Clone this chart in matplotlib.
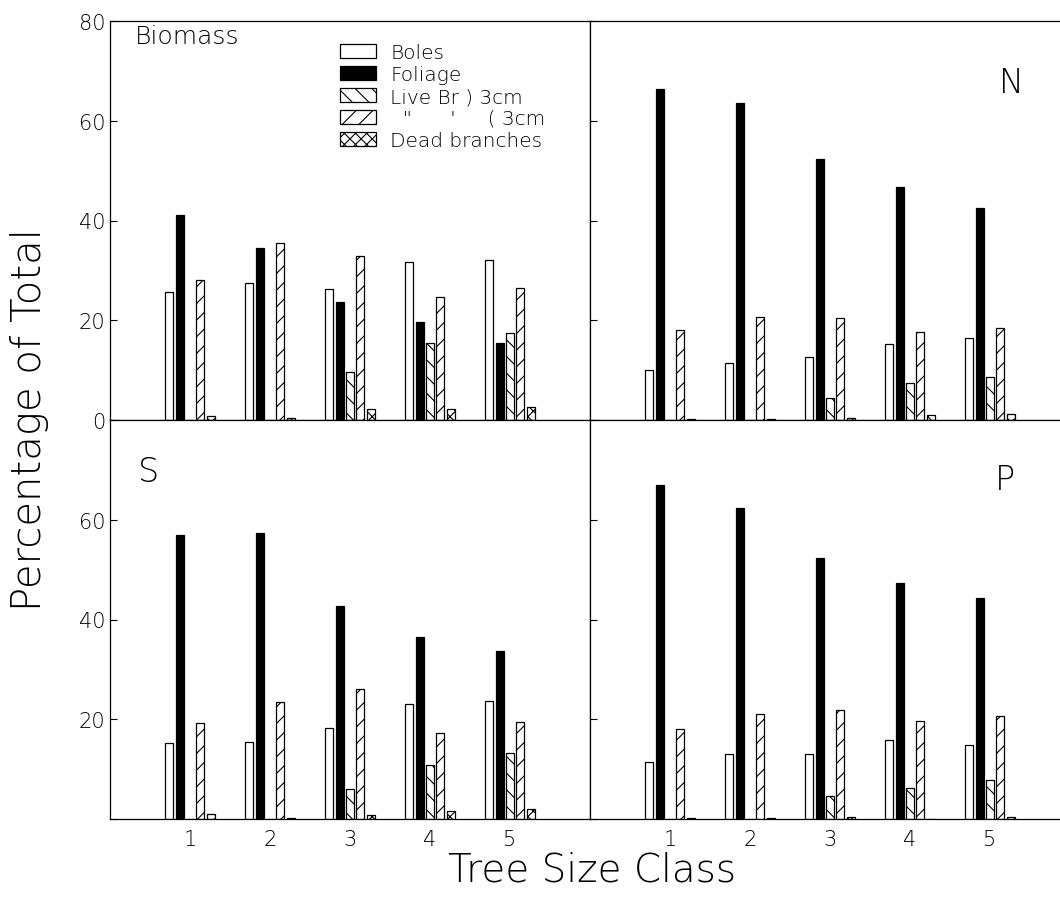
import matplotlib
matplotlib.use("Agg")
import matplotlib.pyplot as plt
import numpy as np

plt.rcParams['font.family'] = ['DejaVu Sans']
plt.rcParams['hatch.linewidth'] = 0.8

# tree size classes
classes = [1, 2, 3, 4, 5]
components = ["Boles", "Foliage", "Live Br ) 3cm", '  "      \'     ( 3cm', "Dead branches"]

# percentage of total, per component, per size class
biomass_boles = [25.6, 27.4, 26.3, 31.6, 32.1]
biomass_foliage = [41.1, 34.4, 23.7, 19.6, 15.4]
biomass_live_gt3 = [0.0, 0.0, 9.6, 15.4, 17.4]
biomass_live_lt3 = [28.0, 35.5, 32.9, 24.6, 26.4]
biomass_dead = [0.8, 0.5, 2.3, 2.3, 2.7]

n_boles = [10.1, 11.4, 12.7, 15.2, 16.4]
n_foliage = [66.3, 63.5, 52.3, 46.8, 42.5]
n_live_gt3 = [0.0, 0.0, 4.5, 7.4, 8.7]
n_live_lt3 = [18.0, 20.7, 20.4, 17.6, 18.4]
n_dead = [0.3, 0.2, 0.5, 1.1, 1.3]

s_boles = [15.2, 15.5, 18.2, 23.0, 23.7]
s_foliage = [56.9, 57.3, 42.7, 36.4, 33.7]
s_live_gt3 = [0.0, 0.0, 6.0, 10.9, 13.2]
s_live_lt3 = [19.2, 23.4, 26.1, 17.2, 19.4]
s_dead = [1.0, 0.2, 0.8, 1.7, 2.0]

p_boles = [11.5, 13.0, 13.0, 15.9, 14.8]
p_foliage = [67.0, 62.3, 52.4, 47.4, 44.4]
p_live_gt3 = [0.0, 0.0, 4.7, 6.3, 7.9]
p_live_lt3 = [18.0, 21.0, 21.8, 19.7, 20.6]
p_dead = [0.3, 0.2, 0.5, 0.0, 0.4]

panels = [
    ("Biomass", [biomass_boles, biomass_foliage, biomass_live_gt3, biomass_live_lt3, biomass_dead]),
    ("N", [n_boles, n_foliage, n_live_gt3, n_live_lt3, n_dead]),
    ("S", [s_boles, s_foliage, s_live_gt3, s_live_lt3, s_dead]),
    ("P", [p_boles, p_foliage, p_live_gt3, p_live_lt3, p_dead]),
]

styles = [
    dict(facecolor="white", hatch=None),
    dict(facecolor="black", hatch=None),
    dict(facecolor="white", hatch="\\\\"),
    dict(facecolor="white", hatch="//"),
    dict(facecolor="white", hatch="xxx"),
]

W, H = 1060, 912
fig = plt.figure(figsize=(W / 100, H / 100), dpi=100)

x0, xm, x1 = 110, 590, 1070
y_top, y_mid, y_bot = 22, 421, 820
boxes = [
    (x0, y_mid, xm - x0, y_mid - y_top),
    (xm, y_mid, x1 - xm, y_mid - y_top),
    (x0, y_bot, xm - x0, y_bot - y_mid),
    (xm, y_bot, x1 - xm, y_bot - y_mid),
]

x = np.array(classes, dtype=float)
step = 0.131
bw = 0.10

for i, ((name, series), (bx, by, bwid, bh)) in enumerate(zip(panels, boxes)):
    ax = fig.add_axes([bx / W, 1 - by / H, bwid / W, bh / H])
    for k, (vals, st) in enumerate(zip(series, styles)):
        ax.bar(x + (k - 2) * step, vals, width=bw, facecolor=st["facecolor"],
               edgecolor="black", linewidth=0.9, hatch=st["hatch"],
               label=components[k])
    ax.set_xlim(0, 6)
    ax.set_ylim(0, 80)
    ax.tick_params(direction="in", length=5, width=0.8, labelsize=15, colors="black")
    ax.set_yticks([0, 20, 40, 60, 80])
    if i in (2, 3):
        ax.set_xticks(classes)
        ax.set_xticklabels([str(c) for c in classes], fontweight="light")
        ax.tick_params(axis="x", length=0, pad=7)
    else:
        ax.set_xticks([])
    if i == 0:
        ax.set_yticklabels(["0", "20", "40", "60", "80"], fontweight="light")
    elif i == 2:
        ax.set_yticklabels(["", "20", "40", "60", ""], fontweight="light")
    else:
        ax.set_yticklabels([])
    for sp in ax.spines.values():
        sp.set_linewidth(0.9)

    if name == "Biomass":
        ax.text(0.052, 0.962, "Biomass", transform=ax.transAxes, fontsize=18,
                fontweight="light", va="center", ha="left")
        ax.legend(loc="upper left", bbox_to_anchor=(0.462, 0.964), frameon=False,
                  handlelength=1.8, handleheight=0.7,
                  labelspacing=0.14, handletextpad=0.7, borderaxespad=0.0,
                  prop=dict(size=14.5, weight="light"))
    elif name == "N":
        ax.text(0.879, 0.845, "N", transform=ax.transAxes, fontsize=24,
                fontweight="light", ha="center", va="center")
    elif name == "S":
        ax.text(0.08, 0.87, "S", transform=ax.transAxes, fontsize=24,
                fontweight="light", ha="center", va="center")
    elif name == "P":
        ax.text(0.865, 0.85, "P", transform=ax.transAxes, fontsize=24,
                fontweight="light", ha="center", va="center")

fig.text(30 / W, 1 - 420 / H, "Percentage of Total", rotation=90, fontsize=29,
         fontweight="light", ha="center", va="center")
fig.text(592 / W, 1 - 871 / H, "Tree Size Class", fontsize=28,
         fontweight="light", ha="center", va="center")

fig.savefig("out.png", dpi=100)
